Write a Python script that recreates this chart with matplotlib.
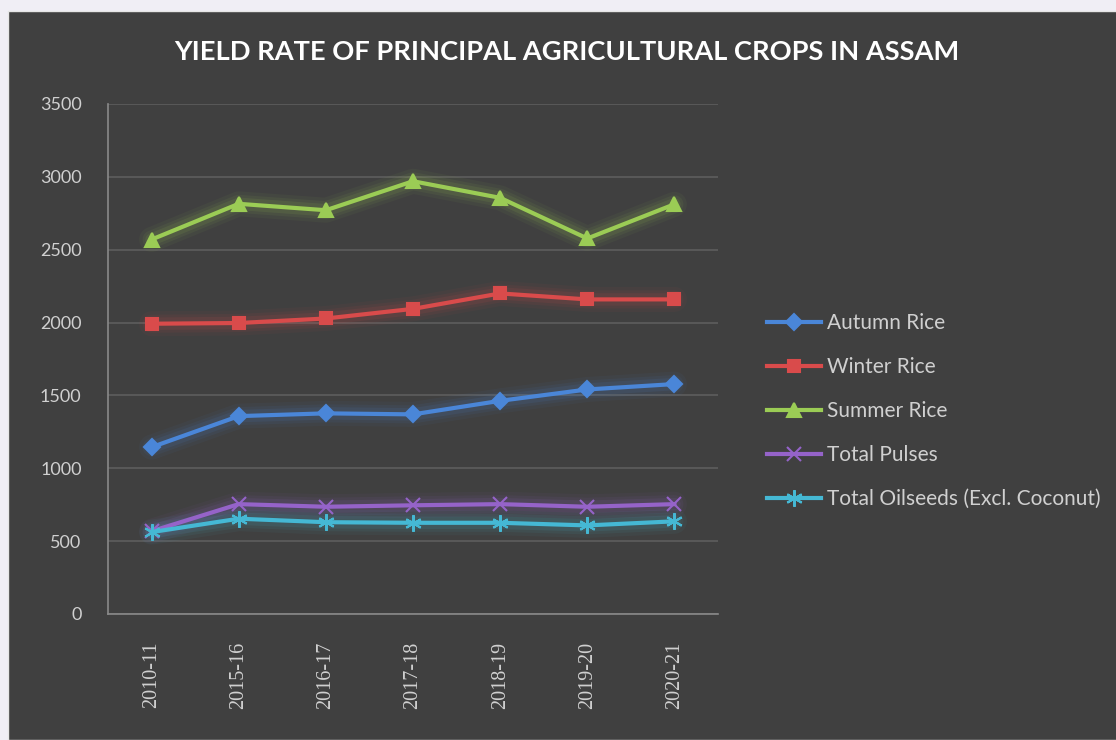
import matplotlib.pyplot as plt
from matplotlib.patches import Rectangle

# Yield rate (kg/ha)
years = ['2010-11', '2015-16', '2016-17', '2017-18', '2018-19', '2019-20', '2020-21']
autumn_rice = [1145, 1358, 1377, 1370, 1463, 1541, 1578]
winter_rice = [1992, 1997, 2028, 2094, 2200, 2159, 2159]
summer_rice = [2570, 2815, 2771, 2970, 2856, 2577, 2812]
total_pulses = [568, 754, 736, 746, 754, 736, 754]
total_oilseeds = [562, 654, 630, 626, 626, 608, 636]
y_ticks = [0, 500, 1000, 1500, 2000, 2500, 3000, 3500]

series = [
    ('Autumn Rice', autumn_rice, '#4a86d8', 'D', 8),
    ('Winter Rice', winter_rice, '#d94b4b', 's', 9),
    ('Summer Rice', summer_rice, '#9bcc55', '^', 10),
    ('Total Pulses', total_pulses, '#9563c9', 'x', 10),
    ('Total Oilseeds (Excl. Coconut)', total_oilseeds, '#45b8d4', (6, 2, 0), 12),
]

fig = plt.figure(figsize=(11.16, 7.4), dpi=100)
fig.patch.set_facecolor('#f0eef5')
fig.patches.append(Rectangle((8 / 1116, 0), 1, (740 - 11) / 740, transform=fig.transFigure,
                             facecolor='#404040', edgecolor='#e6e6e6', linewidth=1.0, zorder=-5))

ax = fig.add_axes([108 / 1116, (740 - 614) / 740, 610 / 1116, 510 / 740])
ax.set_facecolor('none')

x = list(range(len(years)))
handles = []
for name, vals, col, mk, ms in series:
    # soft glow behind each line
    for lw, a in [(18, 0.05), (13, 0.07), (9, 0.10)]:
        ax.plot(x, vals, color=col, lw=lw, alpha=a, solid_capstyle='round', zorder=2)
    h, = ax.plot(x, vals, color=col, lw=3, marker=mk, markersize=ms, markeredgewidth=1.5,
                 markeredgecolor=col, label=name, zorder=3)
    handles.append(h)

ax.set_xlim(-0.5, 6.5)
ax.set_ylim(0, 3500)
ax.set_yticks(y_ticks)
ax.set_xticks(x)
ax.set_xticklabels(years, rotation=90, family='Liberation Serif', fontsize=14.5, color='#d0d0d0')
for lab in ax.get_yticklabels():
    lab.set_family('Lato')
ax.tick_params(axis='y', length=0, pad=19, labelsize=13, labelcolor='#d0d0d0')
ax.tick_params(axis='x', length=0, pad=20)
ax.grid(axis='y', color='#5e5e5e', lw=1.2, zorder=1)
for s in ['top', 'right']:
    ax.spines[s].set_visible(False)
for s in ['left', 'bottom']:
    ax.spines[s].set_color('#8a8a8a')
    ax.spines[s].set_linewidth(1.2)

fig.text(567 / 1116, 1 - 52 / 740, 'YIELD RATE OF PRINCIPAL AGRICULTURAL CROPS IN ASSAM',
         ha='center', va='center', color='white', fontsize=19.6, fontweight='bold', family='Lato')

leg = fig.legend(handles=handles, loc='center left', bbox_to_anchor=(748 / 1116, 1 - 411 / 740),
                 frameon=False, labelspacing=1.15, handlelength=2.6, handletextpad=0.3,
                 prop={'family': 'Lato', 'size': 15})
for t in leg.get_texts():
    t.set_color('#d0d0d0')

fig.savefig('out.png', dpi=100, facecolor=fig.get_facecolor())
